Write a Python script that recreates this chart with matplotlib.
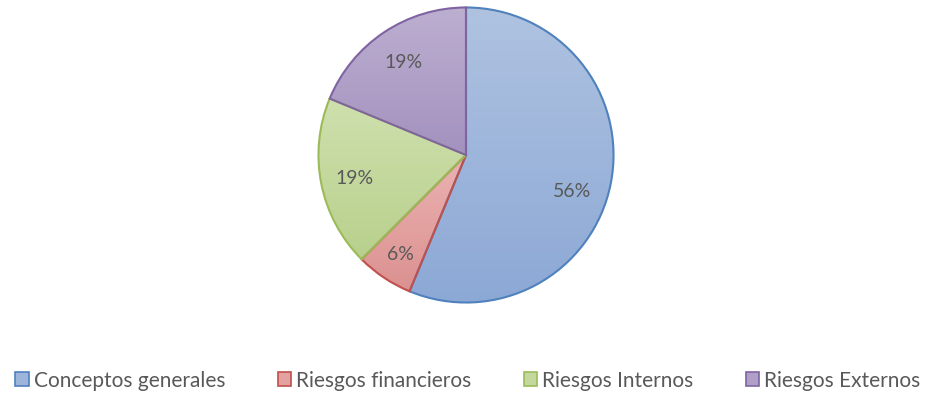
import matplotlib
matplotlib.use("Agg")
import matplotlib.pyplot as plt
import numpy as np
from matplotlib.colors import LinearSegmentedColormap
from matplotlib.patches import Patch

categories = ["Conceptos generales", "Riesgos financieros", "Riesgos Internos", "Riesgos Externos"]
values = [9, 1, 3, 3]
labels_pct = ["56%", "6%", "19%", "19%"]

top_colors = ["#AFC3E1", "#EBB3B2", "#CFE0AE", "#BCAFD0"]
bot_colors = ["#8CA8D5", "#DB9190", "#B8D08C", "#A491BF"]
edge_colors = ["#4F81BD", "#C0504D", "#9BBB59", "#8064A2"]
mid_colors = ["#9DB5DB", "#E3A2A1", "#C4D89D", "#B0A0C7"]

plt.rcParams['font.family'] = ['Lato', 'DejaVu Sans']
fig = plt.figure(figsize=(9.36, 4.02), dpi=100)
cx, cy, r = 466, 156, 149
W, H = 936, 402
ax = fig.add_axes([(cx - r) / W, (H - cy - r) / H, 2 * r / W, 2 * r / H])
ax.axis("off")

wedges, texts = ax.pie(values, startangle=90, counterclock=False, radius=1,
                       colors=mid_colors,
                       wedgeprops=dict(linewidth=1.5))
for w, ec, tc, bc in zip(wedges, edge_colors, top_colors, bot_colors):
    w.set_edgecolor(ec)
    w.set_facecolor("none")
    w.set_zorder(3)
    verts = w.get_path().vertices
    y0, y1 = verts[:, 1].min(), verts[:, 1].max()
    x0, x1 = verts[:, 0].min(), verts[:, 0].max()
    cmap = LinearSegmentedColormap.from_list("g", [bc, tc])
    grad = np.linspace(0, 1, 256).reshape(-1, 1)
    im = ax.imshow(grad, extent=[x0, x1, y0, y1], origin="lower", cmap=cmap,
                   aspect="auto", zorder=2)
    im.set_clip_path(w)

ax.set_xlim(-1.01, 1.01)
ax.set_ylim(-1.01, 1.01)

total = sum(values)
ang = 90.0
dists = [0.76, 0.8, 0.77, 0.76]
offs = [-7, 0, 0, 0]
for v, lab, d, o in zip(values, labels_pct, dists, offs):
    span = 360.0 * v / total
    mid = np.deg2rad(ang - span / 2 + o)
    ang -= span
    ax.text(d * np.cos(mid), d * np.sin(mid), lab, ha="center", va="center",
            fontsize=14, color="#595959", zorder=5)

handles = [Patch(facecolor=m, edgecolor=e, linewidth=1.2) for m, e in zip(mid_colors, edge_colors)]
leg = fig.legend(handles, categories, loc="center", bbox_to_anchor=(0.5, (H - 381) / H),
                 ncol=4, frameon=False, fontsize=15, handlelength=0.65, handleheight=0.65,
                 handletextpad=0.25, columnspacing=2.5, labelcolor="#595959")

fig.savefig("out.png", dpi=100)
